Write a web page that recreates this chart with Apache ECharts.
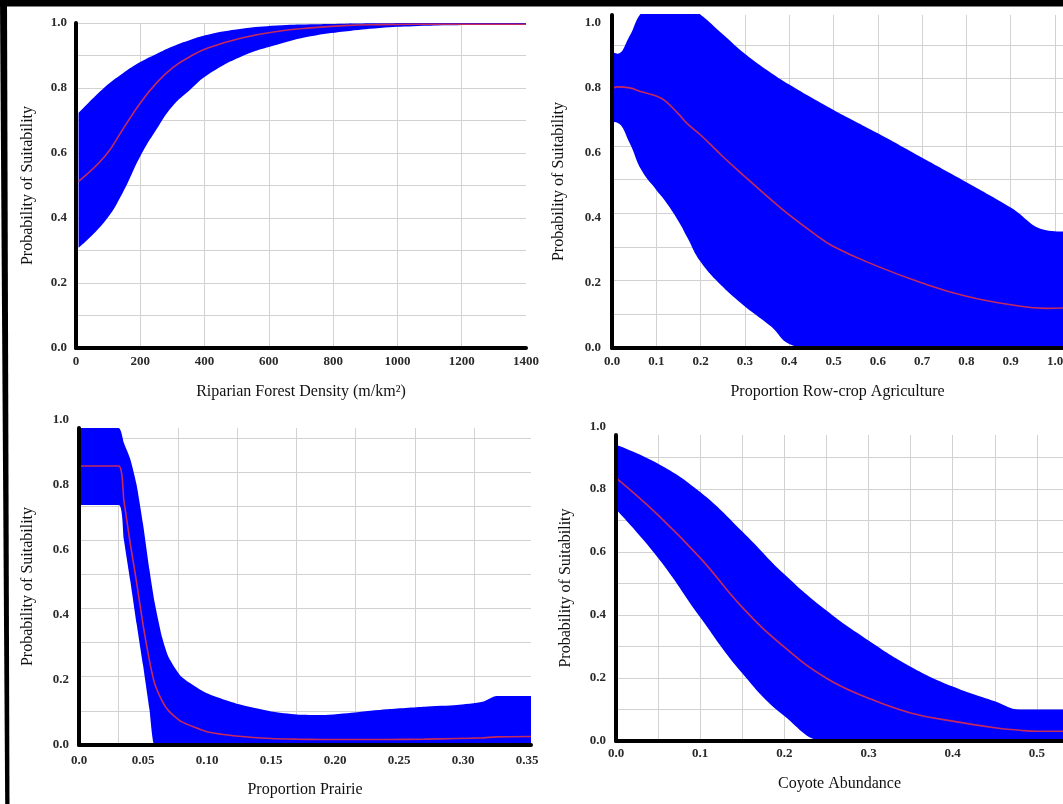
<!DOCTYPE html>
<html>
<head>
<meta charset="utf-8">
<script src="https://cdn.jsdelivr.net/npm/echarts@6/dist/echarts.min.js"></script>
<style>html,body{margin:0;padding:0;background:#fff}#c{width:1063px;height:804px}</style>
</head>
<body>
<div id="c"></div>
<script>
// ---------- data ----------
const yTitle = 'Probability of Suitability';
const xTitle1 = 'Riparian Forest Density (m/km\u00B2)';
const xTitle2 = 'Proportion Row-crop Agriculture';
const xTitle3 = 'Proportion Prairie';
const xTitle4 = 'Coyote Abundance';

// Panel 1: Riparian forest density
const x1     = [8, 90, 145, 200, 250, 300, 355, 410, 515, 625, 730, 835, 945, 1050, 1155, 1265, 1400];
const upper1 = [0.723, 0.803, 0.845, 0.880, 0.905, 0.928, 0.948, 0.964, 0.982, 0.992, 0.996, 0.998, 0.999, 1.0, 1.0, 1.0, 1.0];
const mid1   = [0.513, 0.590, 0.672, 0.754, 0.815, 0.862, 0.897, 0.923, 0.954, 0.974, 0.985, 0.992, 0.995, 0.996, 0.996, 0.996, 0.996];
const lower1 = [0.308, 0.390, 0.477, 0.590, 0.672, 0.744, 0.795, 0.841, 0.897, 0.933, 0.959, 0.974, 0.985, 0.990, 0.993, 0.994, 0.995];

// Panel 2: Row-crop agriculture
const x2     = [0, 0.012, 0.04, 0.066, 0.1, 0.12, 0.15, 0.17, 0.2, 0.25, 0.3, 0.36, 0.4, 0.45, 0.5, 0.6, 0.7, 0.8, 0.9, 0.98, 1.018];
const upper2 = [0.91, 0.905, 0.96, 1.03, 1.06, 1.06, 1.06, 1.05, 1.025, 0.965, 0.905, 0.845, 0.81, 0.77, 0.732, 0.66, 0.585, 0.51, 0.432, 0.362, 0.358];
const mid2   = [0.798, 0.803, 0.80, 0.788, 0.775, 0.76, 0.72, 0.69, 0.655, 0.589, 0.527, 0.455, 0.409, 0.358, 0.312, 0.251, 0.2, 0.159, 0.133, 0.122, 0.123];
const lower2 = [0.695, 0.693, 0.63, 0.548, 0.486, 0.452, 0.39, 0.34, 0.265, 0.188, 0.128, 0.065, 0.012, 0, 0, 0, 0, 0, 0, 0, 0];

// Panel 3: Prairie
const x3     = [0, 0.031, 0.035, 0.04, 0.045, 0.05, 0.055, 0.059, 0.065, 0.07, 0.08, 0.1, 0.125, 0.15, 0.17, 0.19, 0.215, 0.24, 0.27, 0.295, 0.315, 0.326, 0.353];
const upper3 = [0.975, 0.975, 0.93, 0.88, 0.80, 0.68, 0.54, 0.44, 0.33, 0.27, 0.21, 0.159, 0.125, 0.103, 0.094, 0.092, 0.100, 0.110, 0.118, 0.123, 0.133, 0.151, 0.151];
const mid3   = [0.858, 0.858, 0.754, 0.62, 0.50, 0.37, 0.26, 0.19, 0.135, 0.105, 0.072, 0.041, 0.027, 0.020, 0.018, 0.017, 0.017, 0.017, 0.018, 0.020, 0.022, 0.025, 0.026];
const lower3 = [0.738, 0.738, 0.633, 0.507, 0.373, 0.246, 0.11, 0, 0, 0, 0, 0, 0, 0, 0, 0, 0, 0, 0, 0, 0, 0, 0];

// Panel 4: Coyote abundance
const x4     = [0, 0.05, 0.1, 0.15, 0.2, 0.25, 0.3, 0.35, 0.4, 0.45, 0.48, 0.5, 0.531];
const upper4 = [0.94, 0.88, 0.79, 0.665, 0.529, 0.414, 0.319, 0.236, 0.173, 0.126, 0.10, 0.10, 0.10];
const mid4   = [0.835, 0.717, 0.581, 0.424, 0.298, 0.199, 0.136, 0.089, 0.063, 0.042, 0.034, 0.031, 0.031];
const lower4 = [0.735, 0.581, 0.393, 0.215, 0.079, 0, 0, 0, 0, 0, 0, 0, 0];

// ---------- styling / layout ----------
const FONT = '"Liberation Serif", "Times New Roman", serif';
const BAND = '#0000ff';
const LINE = '#c42a5c';
const GRIDC = '#d2d2d2';

function yFmt(v) {
  const k = Math.round(v * 10);
  if (Math.abs(v * 10 - k) > 0.01) return '{t|1.0}';
  return k % 2 === 0 ? v.toFixed(1) : '';
}

const panels = [
  { name: xTitle1, x: x1, lo: lower1, mid: mid1, hi: upper1, smooth: 0.45,
    rect: { left: 76, top: 23, width: 450, height: 325 },
    xMax: 1400, xInt: 200, yMax: 1.0, showXMax: true, showYMax: true,
    xFmt: v => String(Math.round(v)), xGap: 36, yGap: 40, xMargin: 7, yMargin: 9,
    vLines: { rect: null, max: 1400, interval: 200 },
    hLines: { rect: null, max: 1.0, interval: 0.1, showMax: true } },
  { name: xTitle2, x: x2, lo: lower2, mid: mid2, hi: upper2, smooth: 0.45,
    rect: { left: 612, top: 15, width: 451, height: 333 },
    xMax: 1.018, xInt: 0.1, yMax: 1.024, showXMax: false, showYMax: false,
    xFmt: v => v.toFixed(1), xGap: 36, yGap: 45, xMargin: 7, yMargin: 11,
    vLines: { rect: null, max: 1.018, interval: 0.1 },
    hLines: { rect: null, max: 9.894, interval: 1 } },
  { name: xTitle3, x: x3, lo: lower3, mid: mid3, hi: upper3, smooth: 0.2,
    rect: { left: 79, top: 428, width: 452, height: 317 },
    xMax: 0.353, xInt: 0.05, yMax: 0.975, showXMax: false, showYMax: true,
    xFmt: v => (v === 0 ? '0.0' : v.toFixed(2)), xGap: 37, yGap: 43, xMargin: 9, yMargin: 10,
    vLines: { rect: { left: 59.2, top: 428, width: 471.8, height: 317 }, max: 7.956, interval: 1 },
    hLines: { rect: null, max: 9.286, interval: 1 } },
  { name: xTitle4, x: x4, lo: lower4, mid: mid4, hi: upper4, smooth: 0.45,
    rect: { left: 616, top: 435, width: 447, height: 306 },
    xMax: 0.531, xInt: 0.05, yMax: 0.971, showXMax: false, showYMax: true,
    xFmt: v => (Math.round(v * 100) % 10 === 0 ? v.toFixed(1) : ''), xGap: 35, yGap: 42, xMargin: 6, yMargin: 10,
    vLines: { rect: null, max: 0.531, interval: 0.05 },
    hLines: { rect: null, max: 0.971, interval: 0.1 } }
];

const option = {
  animation: false,
  backgroundColor: '#ffffff',
  grid: [], xAxis: [], yAxis: [], series: [],
  graphic: [
    { type: 'polygon', shape: { points: [[0, 0], [7, 0], [9.5, 804], [5.2, 804]] }, style: { fill: '#000' }, z: 100 },
    { type: 'rect', shape: { x: 0, y: 0, width: 1063, height: 6.5 }, style: { fill: '#000' }, z: 100 }
  ]
};

function addGrid(rect) {
  option.grid.push(Object.assign({ containLabel: false, outerBoundsMode: 'none', show: false }, rect));
  return option.grid.length - 1;
}
function lineAxis(gi, spec, on) {
  return {
    type: 'value', gridIndex: gi, min: 0, max: spec ? spec.max : 1, interval: spec ? spec.interval : 1,
    axisLine: { show: false }, axisTick: { show: false }, axisLabel: { show: false },
    splitLine: on ? { show: true, showMinLine: false, showMaxLine: !!spec.showMax, lineStyle: { color: GRIDC, width: 1 } } : { show: false },
    z: 0
  };
}
// rows are [value, x] so that the stacked dimension is the value (y) dimension
const rows = (xs, ys) => xs.map((x, i) => [ys[i], x]);
const ENC = { x: 1, y: 0 };

panels.forEach((p, i) => {
  const gv = addGrid(p.vLines.rect || p.rect);
  option.xAxis.push(lineAxis(gv, p.vLines, true));
  option.yAxis.push(lineAxis(gv, null, false));
  const gh = addGrid(p.hLines.rect || p.rect);
  option.xAxis.push(lineAxis(gh, null, false));
  option.yAxis.push(lineAxis(gh, p.hLines, true));
  const gm = addGrid(p.rect);
  const labelBase = { color: '#2a2a2a', fontFamily: FONT, fontSize: 13, fontWeight: 'bold' };
  option.xAxis.push({
    type: 'value', gridIndex: gm, min: 0, max: p.xMax, interval: p.xInt, z: 10,
    axisLine: { show: true, onZero: false, lineStyle: { color: '#000', width: 4 } },
    axisTick: { show: false }, splitLine: { show: false },
    axisLabel: Object.assign({ formatter: p.xFmt, margin: p.xMargin, showMinLabel: true, showMaxLabel: p.showXMax }, labelBase),
    name: p.name, nameLocation: 'middle', nameGap: p.xGap,
    nameTextStyle: { fontFamily: FONT, fontSize: 16, color: '#111' }
  });
  option.yAxis.push({
    type: 'value', gridIndex: gm, min: 0, max: p.yMax, interval: 0.1, z: 10,
    axisLine: { show: true, onZero: false, lineStyle: { color: '#000', width: 4 } },
    axisTick: { show: false }, splitLine: { show: false },
    axisLabel: Object.assign({ formatter: yFmt, margin: p.yMargin, showMinLabel: true, showMaxLabel: p.showYMax,
      rich: { t: { padding: [0, 0, 17, 0], color: '#2a2a2a', fontFamily: FONT, fontSize: 13, fontWeight: 'bold' } } }, labelBase),
    name: yTitle, nameLocation: 'middle', nameGap: p.yGap,
    nameTextStyle: { fontFamily: FONT, fontSize: 16, color: '#111' }
  });
  const xi = option.xAxis.length - 1, yi = option.yAxis.length - 1;
  const stack = 'band' + i;
  option.series.push({
    type: 'line', xAxisIndex: xi, yAxisIndex: yi, stack: stack, encode: ENC, data: rows(p.x, p.lo),
    symbol: 'none', smooth: p.smooth, lineStyle: { opacity: 0 }, silent: true, z: 2
  });
  option.series.push({
    type: 'line', xAxisIndex: xi, yAxisIndex: yi, stack: stack, encode: ENC,
    data: rows(p.x, p.hi.map((h, j) => h - p.lo[j])),
    symbol: 'none', smooth: p.smooth, lineStyle: { opacity: 0 },
    areaStyle: { color: BAND, opacity: 1 }, silent: true, z: 2
  });
  option.series.push({
    type: 'line', xAxisIndex: xi, yAxisIndex: yi, encode: ENC, data: rows(p.x, p.mid),
    symbol: 'none', smooth: p.smooth, lineStyle: { color: LINE, width: 1.6 }, silent: true, z: 3
  });
});

const chart = echarts.init(document.getElementById('c'), null, { renderer: 'canvas' });
chart.setOption(option);
</script>
</body>
</html>
